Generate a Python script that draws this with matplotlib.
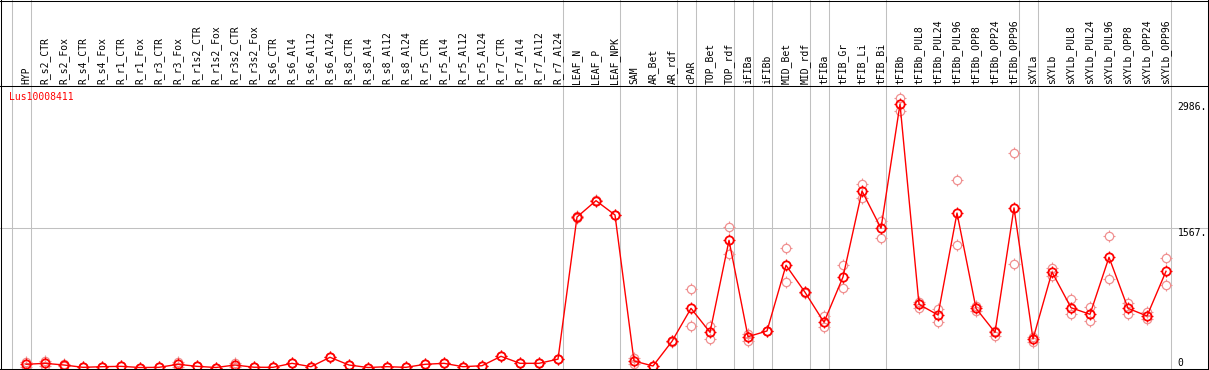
import matplotlib
matplotlib.use("Agg")
import matplotlib.pyplot as plt
import matplotlib.transforms as mtransforms
from matplotlib.path import Path

# ---------------- data ----------------
samples = ["HYP", "R_s2_CTR", "R_s2_Fox", "R_s4_CTR", "R_s4_Fox", "R_r1_CTR", "R_r1_Fox",
           "R_r3_CTR", "R_r3_Fox", "R_r1s2_CTR", "R_r1s2_Fox", "R_r3s2_CTR", "R_r3s2_Fox",
           "R_s6_CTR", "R_s6_Al4", "R_s6_Al12", "R_s6_Al24", "R_s8_CTR", "R_s8_Al4",
           "R_s8_Al12", "R_s8_Al24", "R_r5_CTR", "R_r5_Al4", "R_r5_Al12", "R_r5_Al24",
           "R_r7_CTR", "R_r7_Al4", "R_r7_Al12", "R_r7_Al24", "LEAF_N", "LEAF_P", "LEAF_NPK",
           "SAM", "AR_Bet", "AR_rdf", "cPAR", "TOP_Bet", "TOP_rdf", "iFIBa", "iFIBb",
           "MID_Bet", "MID_rdf", "tFIBa", "tFIB_Gr", "tFIB_Li", "tFIB_Bi", "tFIBb",
           "tFIBb_PUL8", "tFIBb_PUL24", "tFIBb_PUL96", "tFIBb_OPP8", "tFIBb_OPP24",
           "tFIBb_OPP96", "sXYLa", "sXYLb", "sXYLb_PUL8", "sXYLb_PUL24", "sXYLb_PUL96",
           "sXYLb_OPP8", "sXYLb_OPP24", "sXYLb_OPP96"]

means = [36, 47, 28, 2, 9, 13, 0, 2, 36, 13, 0, 28, 3, 2, 47, 9, 115, 28, 0, 9, 2,
         36, 47, 9, 20, 126, 47, 47, 94, 1694, 1878, 1717, 73, 17, 295, 666, 396, 1432,
         347, 411, 1151, 847, 509, 1019, 1987, 1567, 2965, 711, 591, 1739, 666, 396,
         1797, 321, 1075, 673, 599, 1241, 666, 580, 1083]

rep_hi = [65, 73, 35, 2, 9, 13, 0, 2, 65, 13, 0, 47, 3, 2, 47, 9, 115, 28, 0, 9, 2,
          36, 47, 9, 20, 126, 47, 47, 94, 1700, 1885, 1722, 104, 20, 300, 880, 471, 1582,
          377, 416, 1342, 852, 580, 1151, 2066, 1649, 3031, 741, 659, 2111, 692, 414,
          2411, 343, 1117, 768, 678, 1480, 729, 621, 1229]

rep_lo = [7, 21, 21, 2, 9, 13, 0, 2, 7, 13, 0, 9, 3, 2, 47, 9, 115, 28, 0, 9, 2,
          36, 47, 9, 20, 126, 47, 47, 94, 1688, 1871, 1712, 42, 14, 290, 464, 317, 1281,
          302, 406, 966, 842, 459, 892, 1905, 1454, 2891, 673, 509, 1379, 636, 358,
          1165, 284, 1030, 599, 523, 993, 599, 543, 925]

gene = "Lus10008411"
ytick_vals = [2986, 1567, 0]
ytick_labels = ["2986.", "1567.", "0"]
separators_after = [-1, 0, 28, 31, 34, 35, 37, 38, 39, 41, 42, 45, 52, 53, 60]

# ---------------- layout ----------------
W, H = 1209, 370
X0, DX = 26.0, 19.0        # pixel x of first sample, spacing
Y0, KY = 367.5, 0.08883    # pixel row of value 0, pixels per unit
GRAY = "#c0c0c0"
LIGHT = "#f09090"
FONT = "DejaVu Sans Mono"
FS = 7

fig = plt.figure(figsize=(W / 100, H / 100), dpi=100)
ax = fig.add_axes([0, 0, 1, 1])
ax.axis("off")
ax.set_xlim((0 - X0) / DX, (W - X0) / DX)
ax.set_ylim((Y0 - H) / KY, Y0 / KY)

def fy(row):
    return 1 - row / H

def fx(col):
    return col / W

# borders
lw1 = 0.75
for (xa, xb, ya, yb) in [(0, W, 0.5, 0.5), (0, W, 85.5, 85.5), (0, W, 369, 369),
                         (0.5, 0.5, 0, H), (1208, 1208, 0, H)]:
    ax.plot([fx(xa), fx(xb)], [fy(ya), fy(yb)], transform=ax.transAxes,
            color="k", lw=lw1, clip_on=False, zorder=6)

# vertical separators
for j in separators_after:
    ax.axvline(j + 5 / DX, color=GRAY, lw=lw1, zorder=1)

# horizontal gridline
ax.axhline(1567, color=GRAY, lw=lw1, zorder=1)

# header labels
hdr = mtransforms.blended_transform_factory(ax.transData, fig.transFigure)
for i, s in enumerate(samples):
    ax.text(i, fy(83.5), s, rotation=90, ha="center", va="bottom",
            transform=hdr, fontsize=FS, family=FONT, color="black")

# gene label
ax.text(fx(9.5), fy(97.5), gene, transform=fig.transFigure, ha="left", va="center",
        fontsize=FS, family=FONT, color="red")

# right axis labels
xr = (1177.5 - X0) / DX
for v, lab in zip(ytick_vals, ytick_labels):
    ax.text(xr, v, lab, ha="left", va="bottom" if v == 0 else "top",
            fontsize=FS, family=FONT, color="black")

# marker: open circle plus four short outward ticks
r0, t = 1.0, 1.4
ticks = Path([(r0, 0), (t, 0), (-r0, 0), (-t, 0), (0, r0), (0, t), (0, -r0), (0, -t)],
             [Path.MOVETO, Path.LINETO] * 4)
ms_c = 6.0
ms_t = ms_c * t

idx = list(range(len(samples)))
for reps in (rep_hi, rep_lo):
    ax.plot(idx, reps, ls="none", marker="o", ms=ms_c, mfc="none", mec=LIGHT,
            mew=0.9, zorder=2)
    ax.plot(idx, reps, ls="none", marker=ticks, ms=ms_t, mec=LIGHT,
            mew=0.8, zorder=2)
ax.plot(idx, means, color="red", lw=1.0, zorder=3)
ax.plot(idx, means, ls="none", marker="o", ms=ms_c, mfc="none", mec="red",
        mew=1.3, zorder=4)
ax.plot(idx, means, ls="none", marker=ticks, ms=ms_t, mec="red",
        mew=0.9, zorder=4)

fig.savefig("out.png", dpi=100)
